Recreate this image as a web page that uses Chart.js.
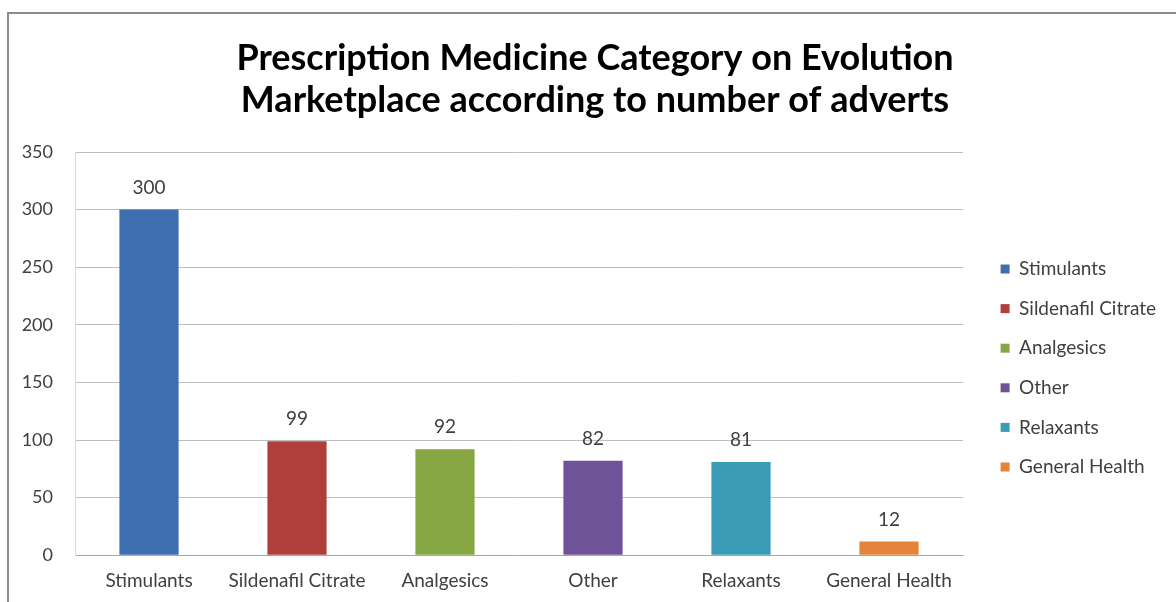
<!DOCTYPE html>
<html>
<head>
<meta charset="utf-8">
<title>Prescription Medicine Category on Evolution Marketplace</title>
<script src="https://cdn.jsdelivr.net/npm/chart.js@4.4.1/dist/chart.umd.min.js"></script>
<style>
  html, body { margin: 0; padding: 0; background: #fff; }
  #wrap { position: relative; width: 1176px; height: 602px; overflow: hidden; }
  #frame {
    position: absolute; left: 7px; top: 12px; width: 1300px; height: 700px;
    border-top: 2px solid #8c8c8c; border-left: 2px solid #8c8c8c;
  }
  #chart { position: absolute; left: 0; top: 0; }
</style>
</head>
<body>
<div id="wrap">
  <div id="frame"></div>
  <canvas id="chart" width="1176" height="602"></canvas>
</div>
<script>
const titleLines = ['Prescription Medicine Category on Evolution', 'Marketplace according to number of adverts'];
const categories = ['Stimulants', 'Sildenafil Citrate', 'Analgesics', 'Other', 'Relaxants', 'General Health'];
const adverts = [300, 99, 92, 82, 81, 12];
const barColors = ['#3e6fb0', '#b03f3c', '#86a744', '#6f5399', '#3a9bb7', '#e4833a'];
const yMin = 0;
const yMax = 350;
const yStep = 50;

const FONT = 'Lato, "Open Sans", sans-serif';

// numbers over the bars
const valueLabels = {
  id: 'valueLabels',
  afterDatasetsDraw(chart) {
    const ctx = chart.ctx;
    const meta = chart.getDatasetMeta(0);
    ctx.save();
    ctx.font = '19px ' + FONT;
    ctx.fillStyle = '#404040';
    ctx.textAlign = 'center';
    ctx.textBaseline = 'middle';
    meta.data.forEach((bar, i) => {
      ctx.fillText(String(adverts[i]), bar.x, bar.y - 22);
    });
    ctx.restore();
  }
};

// legend keeps a fixed column on the right, items pushed in a bit like excel does
const legendPlacement = {
  id: 'legendPlacement',
  afterInit(chart) {
    const legend = chart.legend;
    const fit = legend.fit.bind(legend);
    legend.fit = function () {
      fit();
      this.width = 213;
    };
  },
  afterLayout(chart) {
    const lg = chart.legend;
    lg.left += 17;
    lg.right += 17;
    lg.top += 65;
    lg.bottom += 65;
  }
};

const ctx = document.getElementById('chart').getContext('2d');
new Chart(ctx, {
  type: 'bar',
  data: {
    labels: categories,
    datasets: [{
      data: adverts,
      backgroundColor: barColors,
      borderWidth: 0,
      barPercentage: 0.4,
      categoryPercentage: 1
    }]
  },
  options: {
    responsive: false,
    animation: false,
    layout: { padding: { left: 14, right: 0, top: 0, bottom: -4 } },
    plugins: {
      tooltip: { enabled: false },
      title: {
        display: true,
        text: titleLines,
        color: '#000',
        font: { family: FONT, size: 36, weight: 'bold', lineHeight: 42 / 36 },
        padding: { top: 37, bottom: 31 }
      },
      legend: {
        position: 'right',
        labels: {
          font: { family: FONT, size: 19 },
          color: '#404040',
          boxWidth: 9,
          boxHeight: 9,
          padding: 20.6,
          generateLabels: () => categories.map((c, i) => ({
            text: c,
            fillStyle: barColors[i],
            strokeStyle: barColors[i],
            lineWidth: 0,
            hidden: false,
            index: i,
            fontColor: '#404040'
          }))
        }
      }
    },
    scales: {
      x: {
        grid: { display: false, drawTicks: false },
        border: { display: true, color: '#a6a6a6', width: 1 },
        ticks: {
          color: '#404040',
          font: { family: FONT, size: 19 },
          padding: 14,
          maxRotation: 0,
          autoSkip: false
        }
      },
      y: {
        min: yMin,
        max: yMax,
        afterFit(scale) { scale.width = 61; },
        grid: { color: '#bfbfbf', drawTicks: false },
        border: { display: true, color: '#d9d9d9' },
        ticks: {
          stepSize: yStep,
          color: '#404040',
          font: { family: FONT, size: 18 },
          padding: 22
        }
      }
    }
  },
  plugins: [valueLabels, legendPlacement]
});
</script>
</body>
</html>
